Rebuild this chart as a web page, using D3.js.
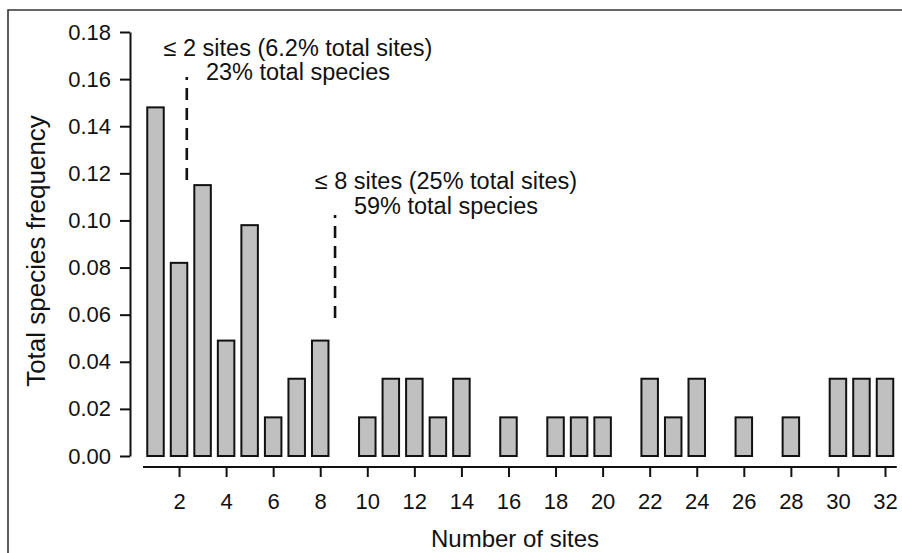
<!DOCTYPE html>
<html><head><meta charset="utf-8">
<script src="https://cdn.jsdelivr.net/npm/d3@7"></script>
<style>body{margin:0;background:#fff;} svg{display:block;} text{font-family:"Liberation Sans",Arial,sans-serif;fill:#111;}</style>
</head><body>
<svg id="c" width="902" height="553"></svg>
<script>
const sites = d3.range(1, 33);
const frequency = [0.148,0.082,0.115,0.049,0.098,0.0164,0.0328,0.049,0,0.0164,0.0328,0.0328,0.0164,0.0328,0,0.0164,0,0.0164,0.0164,0.0164,0,0.0328,0.0164,0.0328,0,0.0164,0,0.0164,0,0.0328,0.0328,0.0328];
const yTicks = [0,0.02,0.04,0.06,0.08,0.10,0.12,0.14,0.16,0.18];
const xTicks = [2,4,6,8,10,12,14,16,18,20,22,24,26,28,30,32];
const annotations = [
  {lines:["\u2264 2 sites (6.2% total sites)","23% total species"], site:2.33, y0:0.1172, y1:0.1609},
  {lines:["\u2264 8 sites (25% total sites)","59% total species"], site:8.63, y0:0.0586, y1:0.1023}
];

const svg = d3.select("#c");
const x = d3.scaleLinear().domain([1,32]).range([155.5,885]);
const y = d3.scaleLinear().domain([0,0.18]).range([456,32]);
const barW = 16.5;

// frame
svg.append("path").attr("d","M8,553V10H902").attr("fill","none").attr("stroke","#333").attr("stroke-width",1.6);

// bars
svg.selectAll("rect.bar").data(sites.map((s,i)=>({s,v:frequency[i]})).filter(d=>d.v>0))
  .enter().append("rect").attr("class","bar")
  .attr("x",d=>x(d.s)-barW/2).attr("width",barW)
  .attr("y",d=>y(d.v)).attr("height",d=>y(0)-y(d.v))
  .attr("fill","#c0c0c0").attr("stroke","#111").attr("stroke-width",2);

// y axis
const ya = svg.append("g").attr("transform","translate(130,0)")
  .call(d3.axisLeft(y).tickValues(yTicks).tickFormat(d3.format(".2f")).tickSize(10).tickPadding(9).tickSizeOuter(0));
ya.select(".domain").attr("stroke","#111").attr("stroke-width",2);
ya.selectAll(".tick line").attr("stroke","#111").attr("stroke-width",2);
ya.selectAll(".tick text").attr("font-size",22).attr("fill","#111").attr("font-family","Liberation Sans, Arial, sans-serif");

// x axis
const xa = svg.append("g").attr("transform","translate(0,467)")
  .call(d3.axisBottom(x).tickValues(xTicks).tickFormat(d3.format("d")).tickSize(10).tickPadding(16).tickSizeOuter(0));
xa.select(".domain").attr("d",`M${x(0.47)},0H${x(32.5)}`).attr("stroke","#111").attr("stroke-width",2);
xa.selectAll(".tick line").attr("stroke","#111").attr("stroke-width",2);
xa.selectAll(".tick text").attr("font-size",22).attr("fill","#111").attr("font-family","Liberation Sans, Arial, sans-serif");

// titles
svg.append("text").attr("x",515).attr("y",547).attr("text-anchor","middle").attr("font-size",24).text("Number of sites");
svg.append("text").attr("transform","translate(45,251) rotate(-90)").attr("text-anchor","middle").attr("font-size",26).text("Total species frequency");

// annotations
const textPos = [{cx:298, b:[56,80]},{cx:446, b:[189,214]}];
annotations.forEach((a,i)=>{
  svg.append("line").attr("x1",x(a.site)).attr("x2",x(a.site)).attr("y1",y(a.y0)).attr("y2",y(a.y1))
    .attr("stroke","#111").attr("stroke-width",2.6).attr("stroke-dasharray","12,8");
  a.lines.forEach((t,j)=>{
    svg.append("text").attr("x",textPos[i].cx).attr("y",textPos[i].b[j]).attr("text-anchor","middle").attr("font-size",23.5).text(t);
  });
});
</script>
</body></html>
